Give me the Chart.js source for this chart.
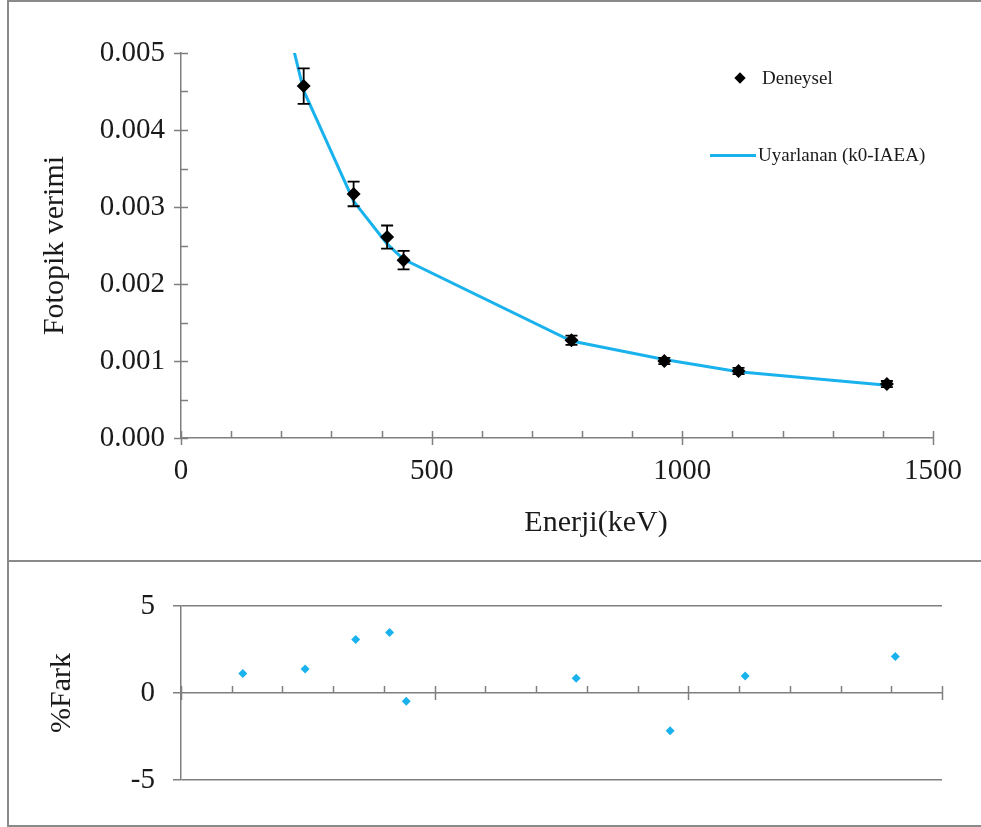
<!DOCTYPE html>
<html>
<head>
<meta charset="utf-8">
<script src="https://cdn.jsdelivr.net/npm/chart.js@4.4.1/dist/chart.umd.min.js"></script>
<style>
  body { margin: 0; background: #fff; }
  #wrap { position: relative; width: 981px; height: 827px; overflow: hidden; font-family: 'Liberation Serif', 'Times New Roman', serif; color: #1a1a1a; }
  #frame { position: absolute; left: 7px; top: 0; width: 1000px; height: 827px; border: 2px solid #8a8a8a; box-sizing: border-box; }
  #sep { position: absolute; left: 7px; top: 560px; width: 980px; height: 2px; background: #8a8a8a; }
  canvas { position: absolute; left: 0; }
  #topChart { top: 0; }
  #botChart { top: 562px; }
  .legText { position: absolute; font-size: 19px; line-height: 20px; }
  .legDiamond { position: absolute; width: 8px; height: 8px; background: #000; transform: rotate(45deg); }
  .legLine { position: absolute; height: 3px; background: #1ab2ed; }
</style>
</head>
<body>
<div id="wrap">
  <div id="frame"></div>
  <div id="sep"></div>
  <canvas id="topChart" width="981" height="560"></canvas>
  <canvas id="botChart" width="981" height="263"></canvas>
  <div class="legDiamond" style="left:736px; top:74px;"></div>
  <div class="legText" style="left:762px; top:68px;">Deneysel</div>
  <div class="legLine" style="left:710px; top:154px; width:46px;"></div>
  <div class="legText" style="left:758px; top:145px;">Uyarlanan (k0-IAEA)</div>
</div>
<script>
// deneysel verim (Eu-152 çizgileri)
const energyExp = [244.7, 344.3, 411.1, 444.0, 778.9, 964.1, 1112.1, 1408.0];
const efficiencyExp = [0.00457, 0.00317, 0.00261, 0.00231, 0.00127, 0.00100, 0.00087, 0.00070];
const efficiencyErr = [0.00023, 0.00016, 0.00015, 0.00012, 0.00006, 0.00004, 0.00004, 0.00004];

// uyarlanan (k0-IAEA) eğri
const energyFit = [121.8, 244.7, 344.3, 411.1, 444.0, 778.9, 964.1, 1112.1, 1408.0];
const efficiencyFit = [0.0078, 0.00451, 0.003075, 0.00252, 0.00232, 0.00126, 0.00102, 0.00086, 0.000686];

// % fark
const energyDiff = [121.8, 244.7, 344.3, 411.1, 444.0, 778.9, 964.1, 1112.1, 1408.0];
const diffPercent = [1.12, 1.38, 3.08, 3.47, -0.47, 0.85, -2.17, 0.98, 2.10];

const FONT = "'Liberation Serif', 'Times New Roman', serif";
const AXIS = '#7f7f7f';
const BLUE = '#1ab2ed';

const toXY = (xs, ys) => xs.map((x, i) => ({ x: x, y: ys[i] }));

// Excel tarzı tik işaretleri
const tickMarks = {
    id: 'tickMarks',
    afterDraw(chart, args, opts) {
        const { ctx } = chart;
        const xs = chart.scales.x, ys = chart.scales.y;
        const yAxis = ys.getPixelForValue(opts.xAxisAt);
        const xAxis = xs.getPixelForValue(xs.min);
        ctx.save();
        ctx.strokeStyle = AXIS;
        ctx.lineWidth = 1.5;
        ctx.beginPath();
        for (let v = xs.min; v <= xs.max + 1e-9; v += opts.xMinor) {
            const p = Math.round(xs.getPixelForValue(v)) + 0.5;
            const major = Math.abs(v / opts.xMajor - Math.round(v / opts.xMajor)) < 1e-6;
            ctx.moveTo(p, yAxis - 7);
            ctx.lineTo(p, major ? yAxis + 7 : yAxis);
        }
        if (opts.yMinor) {
            for (let v = ys.min; v <= ys.max + 1e-12; v += opts.yMinor) {
                const p = Math.round(ys.getPixelForValue(v)) + 0.5;
                const major = Math.abs(v / opts.yMajor - Math.round(v / opts.yMajor)) < 1e-6;
                ctx.moveTo(major ? xAxis - 7 : xAxis, p);
                ctx.lineTo(xAxis + 7, p);
            }
        }
        ctx.stroke();
        ctx.restore();
    }
};

// hata çubukları
const errorBars = {
    id: 'errorBars',
    afterDatasetsDraw(chart) {
        const { ctx } = chart;
        const xs = chart.scales.x, ys = chart.scales.y;
        ctx.save();
        ctx.strokeStyle = '#000';
        ctx.lineWidth = 1.8;
        energyExp.forEach((e, i) => {
            const px = xs.getPixelForValue(e);
            const top = ys.getPixelForValue(efficiencyExp[i] + efficiencyErr[i]);
            const bot = ys.getPixelForValue(efficiencyExp[i] - efficiencyErr[i]);
            ctx.beginPath();
            ctx.moveTo(px, top); ctx.lineTo(px, bot);
            ctx.moveTo(px - 6, top); ctx.lineTo(px + 6, top);
            ctx.moveTo(px - 6, bot); ctx.lineTo(px + 6, bot);
            ctx.stroke();
        });
        ctx.restore();
    }
};

// x ekseni başlığı (grafik alanının biraz sağında)
const xTitle = {
    id: 'xTitle',
    afterDraw(chart, args, opts) {
        const { ctx } = chart;
        ctx.save();
        ctx.font = '30px ' + FONT;
        ctx.fillStyle = '#1a1a1a';
        ctx.textAlign = 'center';
        ctx.textBaseline = 'middle';
        ctx.fillText(opts.text, opts.x, opts.y);
        ctx.restore();
    }
};

new Chart(document.getElementById('topChart').getContext('2d'), {
    type: 'scatter',
    data: {
        datasets: [
            {
                label: 'Deneysel',
                data: toXY(energyExp, efficiencyExp),
                pointStyle: 'rectRot',
                pointRadius: 7,
                pointHoverRadius: 7,
                backgroundColor: '#000',
                borderColor: '#000',
                borderWidth: 0
            },
            {
                label: 'Uyarlanan (k0-IAEA)',
                data: toXY(energyFit, efficiencyFit),
                showLine: true,
                borderColor: BLUE,
                borderWidth: 3,
                pointRadius: 0,
                tension: 0
            }
        ]
    },
    options: {
        responsive: false,
        animation: false,
        layout: { padding: { left: 0, top: 53, right: 48, bottom: 0 } },
        plugins: {
            legend: { display: false },
            tooltip: { enabled: false },
            tickMarks: { xAxisAt: 0, xMinor: 100, xMajor: 500, yMinor: 0.0005, yMajor: 0.001 },
            xTitle: { text: 'Enerji(keV)', x: 596, y: 523 }
        },
        scales: {
            x: {
                type: 'linear',
                min: 0,
                max: 1500,
                afterFit: s => { s.height = 122; },
                grid: { display: false, drawTicks: false },
                border: { display: true, color: AXIS, width: 1.5 },
                ticks: { stepSize: 500, padding: 16, color: '#1a1a1a', font: { family: FONT, size: 29 }, maxRotation: 0,
                    callback: v => String(v) }
            },
            y: {
                min: 0,
                max: 0.005,
                afterFit: s => { s.width = 181; },
                grid: { display: false, drawTicks: false },
                border: { display: true, color: AXIS, width: 1.5 },
                ticks: { stepSize: 0.001, padding: 16, color: '#1a1a1a', font: { family: FONT, size: 29 },
                    callback: v => Number(v).toFixed(3) },
                title: { display: true, text: 'Fotopik verimi', color: '#1a1a1a', font: { family: FONT, size: 30 },
                    padding: { top: 37, bottom: 0 } }
            }
        }
    },
    plugins: [tickMarks, errorBars, xTitle]
});

new Chart(document.getElementById('botChart').getContext('2d'), {
    type: 'scatter',
    data: {
        datasets: [{
            label: '%Fark',
            data: toXY(energyDiff, diffPercent),
            pointStyle: 'rectRot',
            pointRadius: 4.5,
            pointHoverRadius: 4.5,
            backgroundColor: BLUE,
            borderColor: BLUE,
            borderWidth: 0
        }]
    },
    options: {
        responsive: false,
        animation: false,
        layout: { padding: { left: 0, top: 44, right: 39, bottom: 45 } },
        plugins: {
            legend: { display: false },
            tooltip: { enabled: false },
            tickMarks: { xAxisAt: 0, xMinor: 100, xMajor: 500 }
        },
        scales: {
            x: {
                type: 'linear',
                min: 0,
                max: 1500,
                display: false
            },
            y: {
                min: -5,
                max: 5,
                afterFit: s => { s.width = 181; },
                grid: { display: true, color: AXIS, lineWidth: 1.5, drawTicks: true, tickLength: 8 },
                border: { display: true, color: AXIS, width: 1.5 },
                ticks: { stepSize: 5, padding: 18, color: '#1a1a1a', font: { family: FONT, size: 29 } },
                title: { display: true, text: '%Fark', color: '#1a1a1a', font: { family: FONT, size: 30 },
                    padding: { top: 44, bottom: 0 } }
            }
        }
    },
    plugins: [tickMarks]
});
</script>
</body>
</html>
